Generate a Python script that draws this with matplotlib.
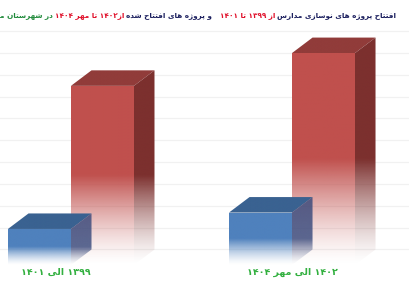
import re
import numpy as np
import matplotlib
matplotlib.use("Agg")
import matplotlib.pyplot as plt
from matplotlib.patches import Polygon
from matplotlib.colors import to_rgb

categories = ["۱۳۹۹ الی ۱۴۰۱", "۱۴۰۲ الی مهر ۱۴۰۴"]
blue_values = [1.65, 2.4]
red_values = [8.2, 9.7]
grid_values = np.arange(0, 11, 1)

title_parts = [
    "افتتاح پروژه های نوسازی مدارس",
    "از ۱۳۹۹ تا ۱۴۰۱",
    "و پروژه های افتتاح شده",
    "از۱۴۰۲ تا مهر ۱۴۰۴",
    "در شهرستان میناب",
]
title_colors = ["#1b1f5e", "#e0102a", "#1b1f5e", "#e0102a", "#1f8a3a"]
title_gaps = [3, 12, 3, 3, 0]

# arabic presentation forms: isolated, final, initial, medial
FORMS = {
    "ا": ("\uFE8D", "\uFE8E", None, None),
    "د": ("\uFEA9", "\uFEAA", None, None),
    "ر": ("\uFEAD", "\uFEAE", None, None),
    "ز": ("\uFEAF", "\uFEB0", None, None),
    "ژ": ("\uFB8A", "\uFB8B", None, None),
    "و": ("\uFEED", "\uFEEE", None, None),
    "پ": ("\uFB56", "\uFB57", "\uFB58", "\uFB59"),
    "ت": ("\uFE95", "\uFE96", "\uFE97", "\uFE98"),
    "ح": ("\uFEA1", "\uFEA2", "\uFEA3", "\uFEA4"),
    "س": ("\uFEB1", "\uFEB2", "\uFEB3", "\uFEB4"),
    "ش": ("\uFEB5", "\uFEB6", "\uFEB7", "\uFEB8"),
    "ف": ("\uFED1", "\uFED2", "\uFED3", "\uFED4"),
    "ل": ("\uFEDD", "\uFEDE", "\uFEDF", "\uFEE0"),
    "م": ("\uFEE1", "\uFEE2", "\uFEE3", "\uFEE4"),
    "ن": ("\uFEE5", "\uFEE6", "\uFEE7", "\uFEE8"),
    "ه": ("\uFEE9", "\uFEEA", "\uFEEB", "\uFEEC"),
    "ی": ("\uFBFC", "\uFBFD", "\uFBFE", "\uFBFF"),
    "ب": ("\uFE8F", "\uFE90", "\uFE91", "\uFE92"),
}


def rtl(s):
    out = []
    for i, ch in enumerate(s):
        if ch not in FORMS:
            out.append(ch)
            continue
        prev = s[i - 1] if i > 0 else ""
        nxt = s[i + 1] if i + 1 < len(s) else ""
        pj = prev in FORMS and FORMS[prev][2] is not None
        nj = nxt in FORMS and FORMS[ch][2] is not None
        f = FORMS[ch]
        if pj and nj:
            out.append(f[3])
        elif pj:
            out.append(f[1])
        elif nj:
            out.append(f[2])
        else:
            out.append(f[0])
    vis = "".join(out)[::-1]
    return re.sub("[\u06F0-\u06F9]+", lambda m: m.group(0)[::-1], vis)


BAR_W = 0.285
DX, DY = 0.093, 0.71
FADE = 0.5

fig = plt.figure(figsize=(4.1, 2.85), dpi=100)
ax = fig.add_axes([0, 0, 1, 1])
ax.axis("off")

for v in grid_values:
    ax.axhline(v + DY, color="#f1f1f1", lw=0.9, zorder=0)


def face(xy, color, h, z, amax=1.0):
    poly = Polygon(xy, closed=True, facecolor="none", edgecolor="none")
    ax.add_patch(poly)
    xs = [p[0] for p in xy]
    ys = [p[1] for p in xy]
    yy = np.linspace(min(ys), max(ys), 300)
    rgba = np.zeros((300, 1, 4))
    rgba[..., :3] = to_rgb(color)
    rgba[:, 0, 3] = np.clip(yy / (FADE * h), 0, 1) ** 1.4 * amax
    im = ax.imshow(rgba, extent=(min(xs), max(xs), min(ys), max(ys)),
                   origin="lower", aspect="auto", interpolation="bilinear", zorder=z)
    im.set_clip_path(poly)


def bar3d(x0, h, front, top, side, z, side_alpha=1.0):
    x1 = x0 + BAR_W
    face([(x0, 0), (x1, 0), (x1, h), (x0, h)], front, h, z)
    face([(x0, h), (x1, h), (x1 + DX, h + DY), (x0 + DX, h + DY)], top, h, z)
    face([(x1, 0), (x1 + DX, DY), (x1 + DX, h + DY), (x1, h)], side, h, z, side_alpha)


for i in range(len(categories)):
    bar3d(i, red_values[i], "#c0504d", "#913c3a", "#7c302e", 2)
    bar3d(i - BAR_W, blue_values[i], "#4f81bd", "#3a6291", "#34467a", 3, 0.8)

label_shift = [-0.07, 0.0]
for i, lab in enumerate(categories):
    ax.text(i + label_shift[i], -0.33, rtl(lab), ha="center", va="center",
            fontsize=6.8, fontweight="bold", color="#33b040")

ax.set_xlim(-0.321, 1.534)
ax.set_ylim(-0.915, 12.13)

# title, laid out right to left in coloured pieces
renderer = fig.canvas.get_renderer()
W = fig.bbox.width


def layout(size, draw):
    x = 396.0
    width_to_last = 0.0
    texts = []
    for k, (part, col) in enumerate(zip(title_parts, title_colors)):
        t = fig.text(x / W, 1 - 15.5 / 285, rtl(part), ha="right", va="center",
                     fontsize=size, fontweight="bold", color=col)
        w = t.get_window_extent(renderer).width
        texts.append(t)
        if k == len(title_parts) - 1:
            t2 = fig.text(0, 0, rtl(part.rsplit(" ", 1)[0]), fontsize=size, fontweight="bold")
            width_to_last = 396.0 - (x - t2.get_window_extent(renderer).width)
            t2.remove()
        x -= w + title_gaps[k] * size / 8.0
    if not draw:
        for t in texts:
            t.remove()
    return width_to_last


base = 8.0
span = layout(base, False)
layout(base * 388.0 / span, True)

fig.savefig("out.png", dpi=100)
